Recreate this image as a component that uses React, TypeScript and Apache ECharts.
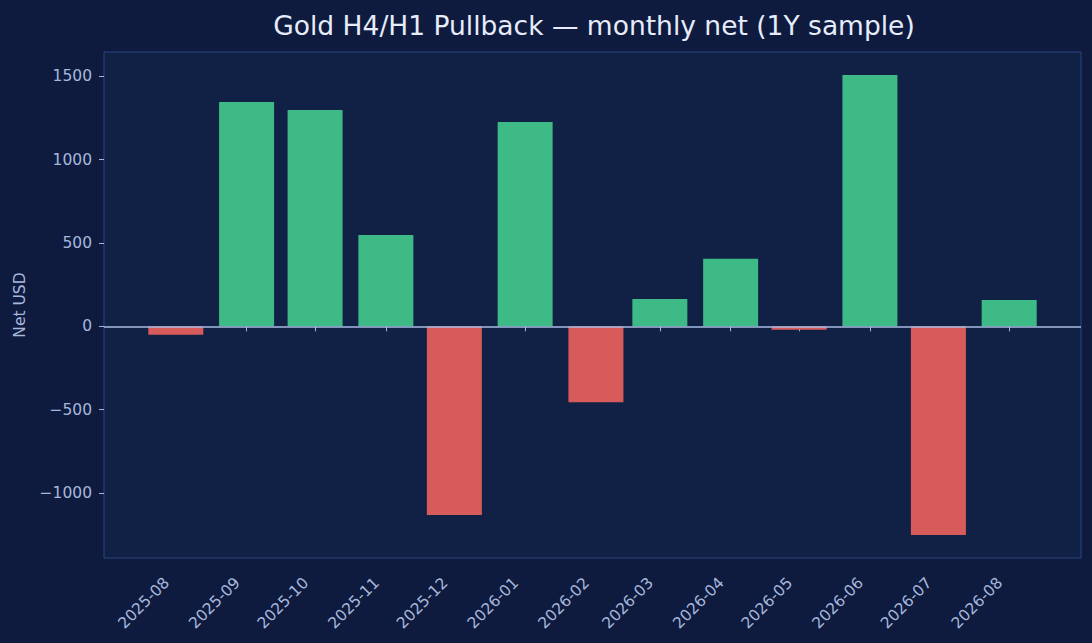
import React, { useEffect, useRef } from "react";
import * as echarts from "echarts";

const months = [
  "2025-08", "2025-09", "2025-10", "2025-11", "2025-12", "2026-01", "2026-02",
  "2026-03", "2026-04", "2026-05", "2026-06", "2026-07", "2026-08",
];
const netUsd = [-50, 1346, 1298, 548, -1132, 1226, -455, 164, 405, -20, 1508, -1252, 158];
const yTicks = [-1000, -500, 0, 500, 1000, 1500];

const TITLE = "Gold H4/H1 Pullback — monthly net (1Y sample)";
const Y_NAME = "Net USD";

const DAY = 86400000;
const FONT = "DejaVu Sans";
const TEXT = "#a7b7dc";
const GREEN = "#3dba85";
const RED = "#d75b5a";

function monthTs(m: string): number {
  const [y, mo] = m.split("-").map(Number);
  return Date.UTC(y, mo - 1, 1);
}

export default function App() {
  const ref = useRef<HTMLDivElement>(null);
  useEffect(() => {
    if (!ref.current) return;
    const chart = echarts.init(ref.current, undefined, { renderer: "svg" });
    const ts = months.map(monthTs);
    const half = 12 * DAY;
    const xLo = ts[0] - half;
    const xHi = ts[ts.length - 1] + half;
    const xPad = (xHi - xLo) * 0.05;
    const yLo = Math.min(0, ...netUsd);
    const yHi = Math.max(0, ...netUsd);
    const yPad = (yHi - yLo) * 0.05;

    chart.setOption({
      animation: false,
      backgroundColor: "#0e1b3e",
      title: {
        text: TITLE,
        left: 589,
        textAlign: "center",
        top: 7,
        textStyle: { color: "#e6ecfa", fontFamily: FONT, fontSize: 26.5, fontWeight: "normal" },
      },
      grid: {
        left: 104,
        right: 11,
        top: 52,
        bottom: 85,
        show: true,
        backgroundColor: "#112045",
        borderColor: "#284680",
        borderWidth: 1,
      },
      xAxis: {
        type: "value",
        min: xLo - xPad,
        max: xHi + xPad,
        splitLine: { show: false },
        axisLine: { show: false },
        axisTick: {
          show: true,
          length: 5,
          lineStyle: { color: TEXT, width: 1 },
          customValues: ts,
        },
        axisLabel: {
          customValues: ts,
          rotate: 45,
          color: TEXT,
          fontFamily: FONT,
          fontSize: 15.5,
          margin: 13,
          padding: [0, 13, 0, 0],
          formatter: (v: number) => {
            const d = new Date(v);
            return d.getUTCFullYear() + "-" + String(d.getUTCMonth() + 1).padStart(2, "0");
          },
        },
      },
      yAxis: {
        type: "value",
        min: yLo - yPad,
        max: yHi + yPad,
        name: Y_NAME,
        nameLocation: "middle",
        nameGap: 76,
        nameTextStyle: { color: TEXT, fontFamily: FONT, fontSize: 15.5 },
        splitLine: { show: false },
        axisLine: { show: false },
        axisTick: {
          show: true,
          length: 5,
          lineStyle: { color: TEXT, width: 1 },
          customValues: yTicks,
        },
        axisLabel: {
          customValues: yTicks,
          color: TEXT,
          fontFamily: FONT,
          fontSize: 15.5,
          margin: 12,
          formatter: (v: number) => (v < 0 ? "\u2212" + Math.abs(v) : String(v)),
        },
      },
      series: [
        {
          type: "bar",
          barWidth: 55,
          data: ts.map((t, i) => ({
            value: [t, netUsd[i]],
            itemStyle: { color: netUsd[i] >= 0 ? GREEN : RED },
          })),
          markLine: {
            silent: true,
            symbol: "none",
            label: { show: false },
            lineStyle: { color: "#a9bbe2", width: 1.5, type: "solid" },
            data: [{ yAxis: 0 }],
          },
        },
      ],
    });
    return () => chart.dispose();
  }, []);
  return (
    <div
      ref={ref}
      style={{ position: "absolute", left: 0, top: 0, width: 1092, height: 643 }}
    />
  );
}
